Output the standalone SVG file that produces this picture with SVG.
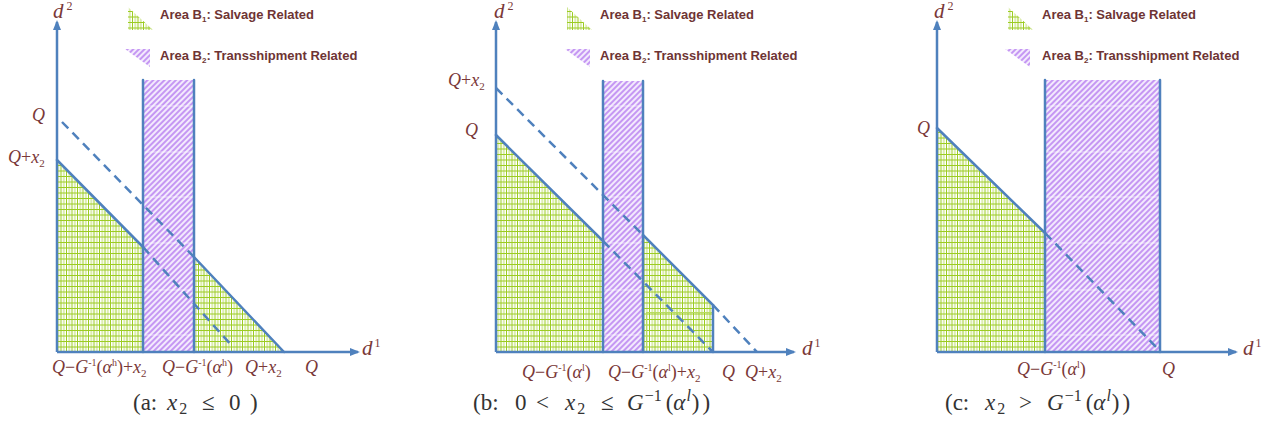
<svg xmlns="http://www.w3.org/2000/svg" width="1269" height="427" viewBox="0 0 1269 427">
<style>
.ln{stroke:#4f81bd;stroke-width:2.5;fill:none;stroke-linecap:round}
.ds{stroke:#4f81bd;stroke-width:2.5;fill:none;stroke-dasharray:9 6}
.ax{stroke:#4f81bd;stroke-width:2.5;fill:none;marker-end:url(#arr)}
.g{fill:url(#grid)}
.h{fill:url(#hatch)}
.wl{stroke:#ffffff;stroke-width:1;opacity:0.6}
.lg{font-family:"Liberation Sans",Arial,sans-serif;font-weight:bold;font-size:13px;fill:#6e3434}
.lgs{font-size:8px}
.m{font-family:"Liberation Serif","Times New Roman",serif;font-style:italic;font-size:18px;fill:#7a3838}
.dl{font-family:"Liberation Serif","Times New Roman",serif;font-style:italic;font-size:21px;fill:#7a3838}
.ds2{font-size:12px;font-style:normal}
.r{font-style:normal}
.sp{font-size:10px;font-style:normal}
.sb{font-size:11px;font-style:normal}
.cap{font-family:"Liberation Serif","Times New Roman",serif;font-size:23px;fill:#333333}
.ci{font-style:italic}
.cs{font-size:16px}
</style>
<defs>
<marker id="arr" viewBox="0 0 10 8" refX="8" refY="4" markerWidth="10" markerHeight="8" markerUnits="userSpaceOnUse" orient="auto">
<path d="M0,0 L10,4 L0,8 z" fill="#4f81bd"/>
</marker>
<pattern id="grid" width="11" height="11" patternUnits="userSpaceOnUse">
<rect width="11" height="11" fill="#ffffff"/>
<rect x="2.3" width="2" height="11" fill="#dcedb0"/>
<rect x="7.8" width="2" height="11" fill="#dcedb0"/>
<path d="M0 0.5H11M0 6H11M0.5 0V11M6 0V11" stroke="#9ccc22" stroke-width="1"/>
</pattern>
<pattern id="hatch" width="4" height="4" patternUnits="userSpaceOnUse" patternTransform="rotate(45)">
<rect width="4" height="4" fill="#f3eafd"/>
<rect width="2" height="4" fill="#c597f3"/>
</pattern>
</defs>

<g id="panel-a">
<g id="a-areas">
<polygon class="g" points="57,160 143,247 143,352 57,352"/>
<polygon class="g" points="194,257 284,352 194,352"/>
<rect class="h" x="143" y="80" width="51" height="272"/>
<path class="wl" d="M144 106H193M144 152H193M144 197H193M144 243H193M144 290H193M144 335H193"/>
</g>
<g id="a-connectors">
<path class="ln" d="M143 80V352M194 80V352"/>
<path class="ln" d="M57 160L143 247M194 257L284 352"/>
<path class="ds" d="M62 122L194 257M143 247L233 347"/>
<path class="ax" d="M57 352V22"/>
<path class="ax" d="M57 352H358"/>
</g>
<g id="a-legend">
<polygon class="g" points="128,7 128,30 153,30"/>
<polygon class="h" points="125,49 150,49 150,67"/>
<text class="lg" x="160" y="19">Area B<tspan class="lgs" dy="3">1</tspan><tspan dy="-3">: Salvage Related</tspan></text>
<text class="lg" x="160" y="60">Area B<tspan class="lgs" dy="3">2</tspan><tspan dy="-3">: Transshipment Related</tspan></text>
</g>
<g id="a-labels">
<text class="dl" x="53" y="18">d<tspan class="ds2" dx="3" dy="-8">2</tspan></text>
<text class="dl" x="362" y="355">d<tspan class="ds2" dx="2" dy="-8">1</tspan></text>
<text class="m" x="32" y="121">Q</text>
<text class="m" x="8" y="163">Q<tspan class="r">+</tspan>x<tspan class="sb" dy="4">2</tspan></text>
<text class="m" x="52" y="373">Q<tspan class="r">−</tspan>G<tspan class="sp" dy="-7">-1</tspan><tspan class="r" dy="7">(</tspan>α<tspan class="sp" dy="-7">h</tspan><tspan class="r" dy="7">)+</tspan>x<tspan class="sb" dy="4">2</tspan></text>
<text class="m" x="162" y="373">Q<tspan class="r">−</tspan>G<tspan class="sp" dy="-7">-1</tspan><tspan class="r" dy="7">(</tspan>α<tspan class="sp" dy="-7">h</tspan><tspan class="r" dy="7">)</tspan></text>
<text class="m" x="245" y="373">Q<tspan class="r">+</tspan>x<tspan class="sb" dy="4">2</tspan></text>
<text class="m" x="305" y="373">Q</text>
<text class="cap" y="410"><tspan x="133">(a:</tspan><tspan x="167" class="ci">x</tspan><tspan class="cs" dx="2" dy="4">2</tspan><tspan x="202" dy="-4">≤</tspan><tspan x="229">0</tspan><tspan x="250">)</tspan></text>
</g>
</g>

<g id="panel-b">
<g id="b-areas">
<polygon class="g" points="496,135 603,241 603,352 496,352"/>
<polygon class="g" points="643,235 713,305 713,352 643,352"/>
<rect x="646.5" y="312.5" width="66" height="39" fill="none" stroke="#b8dc60" stroke-width="1"/>
<rect class="h" x="603" y="81" width="40" height="271"/>
<path class="wl" d="M604 106H642M604 152H642M604 197H642M604 243H642M604 290H642M604 335H642"/>
</g>
<g id="b-connectors">
<path class="ln" d="M603 81V352M643 81V352"/>
<path class="ln" d="M496 135L603 241M643 235L713 305V352"/>
<path class="ds" d="M496 88L643 235M603 241L713 352M713 305L757 352"/>
<path class="ax" d="M496 352V22"/>
<path class="ax" d="M496 352H794"/>
</g>
<g id="b-legend">
<polygon class="g" points="567,7 567,30 592,30"/>
<polygon class="h" points="565,49 590,49 590,67"/>
<text class="lg" x="600" y="19">Area B<tspan class="lgs" dy="3">1</tspan><tspan dy="-3">: Salvage Related</tspan></text>
<text class="lg" x="600" y="60">Area B<tspan class="lgs" dy="3">2</tspan><tspan dy="-3">: Transshipment Related</tspan></text>
</g>
<g id="b-labels">
<text class="dl" x="494" y="18">d<tspan class="ds2" dx="3" dy="-8">2</tspan></text>
<text class="dl" x="802" y="355">d<tspan class="ds2" dx="2" dy="-8">1</tspan></text>
<text class="m" x="448" y="86">Q<tspan class="r">+</tspan>x<tspan class="sb" dy="4">2</tspan></text>
<text class="m" x="465" y="136">Q</text>
<text class="m" x="522" y="378">Q<tspan class="r">−</tspan>G<tspan class="sp" dy="-7">-1</tspan><tspan class="r" dy="7">(</tspan>α<tspan class="sp" dy="-7">l</tspan><tspan class="r" dy="7">)</tspan></text>
<text class="m" x="608" y="378">Q<tspan class="r">−</tspan>G<tspan class="sp" dy="-7">-1</tspan><tspan class="r" dy="7">(</tspan>α<tspan class="sp" dy="-7">l</tspan><tspan class="r" dy="7">)+</tspan>x<tspan class="sb" dy="4">2</tspan></text>
<text class="m" x="722" y="378">Q</text>
<text class="m" x="745" y="378">Q<tspan class="r">+</tspan>x<tspan class="sb" dy="4">2</tspan></text>
<text class="cap" y="410"><tspan x="473">(b:</tspan><tspan x="515">0</tspan><tspan x="536">&lt;</tspan><tspan x="565" class="ci">x</tspan><tspan class="cs" dx="2" dy="4">2</tspan><tspan x="601" dy="-4">≤</tspan><tspan x="627" class="ci">G</tspan><tspan class="cs" dx="1" dy="-9">−1</tspan><tspan dx="4" dy="9">(</tspan><tspan class="ci">α</tspan><tspan class="cs ci" dx="1" dy="-9">l</tspan><tspan dx="1" dy="9">)</tspan><tspan dx="3">)</tspan></text>
</g>
</g>

<g id="panel-c">
<g id="c-areas">
<polygon class="g" points="937,128 1045,233 1045,352 937,352"/>
<rect class="h" x="1045" y="80" width="115" height="272"/>
<path class="wl" d="M1046 106H1159M1046 152H1159M1046 197H1159M1046 243H1159M1046 290H1159M1046 335H1159"/>
</g>
<g id="c-connectors">
<path class="ln" d="M1045 80V352M1160 80V352"/>
<path class="ln" d="M937 128L1045 233"/>
<path class="ds" d="M1045 233L1158 349"/>
<path class="ax" d="M937 352V22"/>
<path class="ax" d="M937 352H1236"/>
</g>
<g id="c-legend">
<polygon class="g" points="1008,7 1008,30 1033,30"/>
<polygon class="h" points="1005,49 1030,49 1030,67"/>
<text class="lg" x="1042" y="19">Area B<tspan class="lgs" dy="3">1</tspan><tspan dy="-3">: Salvage Related</tspan></text>
<text class="lg" x="1042" y="60">Area B<tspan class="lgs" dy="3">2</tspan><tspan dy="-3">: Transshipment Related</tspan></text>
</g>
<g id="c-labels">
<text class="dl" x="934" y="18">d<tspan class="ds2" dx="3" dy="-8">2</tspan></text>
<text class="dl" x="1243" y="355">d<tspan class="ds2" dx="2" dy="-8">1</tspan></text>
<text class="m" x="917" y="134">Q</text>
<text class="m" x="1017" y="375">Q<tspan class="r">−</tspan>G<tspan class="sp" dy="-7">-1</tspan><tspan class="r" dy="7">(</tspan>α<tspan class="sp" dy="-7">l</tspan><tspan class="r" dy="7">)</tspan></text>
<text class="m" x="1162" y="375">Q</text>
<text class="cap" y="410"><tspan x="945">(c:</tspan><tspan x="985" class="ci">x</tspan><tspan class="cs" dx="2" dy="4">2</tspan><tspan x="1019" dy="-4">&gt;</tspan><tspan x="1047" class="ci">G</tspan><tspan class="cs" dx="1" dy="-9">−1</tspan><tspan dx="4" dy="9">(</tspan><tspan class="ci">α</tspan><tspan class="cs ci" dx="1" dy="-9">l</tspan><tspan dx="1" dy="9">)</tspan><tspan dx="3">)</tspan></text>
</g>
</g>
</svg>
